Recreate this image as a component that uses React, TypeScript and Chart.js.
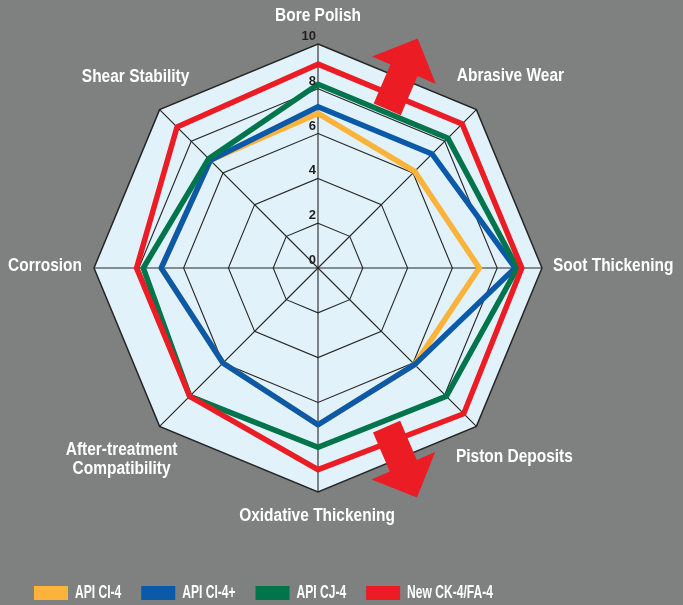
import React, { useEffect, useRef } from "react";
import { Chart, registerables } from "chart.js";

Chart.register(...registerables);

// ---- data ----
const categories: (string | string[])[] = [
  "Bore Polish",
  "Abrasive Wear",
  "Soot Thickening",
  "Piston Deposits",
  "Oxidative Thickening",
  ["After-treatment", "Compatibility"],
  "Corrosion",
  "Shear Stability",
];
const seriesNames = ["API CI-4", "API CI-4+", "API CJ-4", "New CK-4/FA-4"];
const apiCI4 = [6.9, 6.1, 7.2, 6.1, 7.0, 6.0, 7.0, 6.8];
const apiCI4Plus = [7.2, 7.2, 8.8, 6.1, 7.0, 6.0, 7.0, 6.8];
const apiCJ4 = [8.2, 8.2, 8.9, 8.1, 8.0, 8.1, 7.8, 6.9];
const newCK4 = [9.1, 9.1, 9.1, 9.2, 9.0, 8.1, 8.1, 8.9];
const tickValues = [0, 2, 4, 6, 8, 10];

// ---- styles ----
const seriesColors = ["#fbb33a", "#0b5aaa", "#00744a", "#ec1c24"];
const bgGray = "#7f8180";
const LABEL_FONT = "bold 18px 'Liberation Sans', Arial, sans-serif";
const LABEL_SX = 0.86;
const LEGEND_SX = 0.67;

// label placement relative to each outer vertex: [dx, dy, align]
const labelPlacement: [number, number, CanvasTextAlign][] = [
  [0, -28, "center"],
  [34, -34, "center"],
  [11, -2, "left"],
  [38, 31, "center"],
  [-1, 24, "center"],
  [-38, 24, "center"],
  [-12, -2, "right"],
  [-24, -33, "center"],
];

function drawCondensed(
  ctx: CanvasRenderingContext2D,
  text: string,
  x: number,
  y: number,
  sx: number,
  align: CanvasTextAlign
) {
  ctx.save();
  ctx.translate(x, y);
  ctx.scale(sx, 1);
  ctx.textAlign = align;
  ctx.fillText(text, 0, 0);
  ctx.restore();
}

const arrowsPlugin = {
  id: "arrows",
  beforeDatasetsDraw(chart: any) {
    const s = chart.scales.r;
    const R = s.drawingArea;
    const ctx = chart.ctx as CanvasRenderingContext2D;
    const drawArrow = (tipX: number, tipY: number, dx: number, dy: number) => {
      const nx = -dy, ny = dx;
      const headLen = 0.155 * R;
      const headHalf = 0.155 * R;
      const shaftHalf = 0.066 * R;
      const shaftLen = 0.19 * R;
      const bx = tipX - dx * headLen, by = tipY - dy * headLen;
      const ex = bx - dx * shaftLen, ey = by - dy * shaftLen;
      ctx.save();
      ctx.fillStyle = "#ec1c24";
      ctx.beginPath();
      ctx.moveTo(tipX, tipY);
      ctx.lineTo(bx + nx * headHalf, by + ny * headHalf);
      ctx.lineTo(bx + nx * shaftHalf, by + ny * shaftHalf);
      ctx.lineTo(ex + nx * shaftHalf, ey + ny * shaftHalf);
      ctx.lineTo(ex - nx * shaftHalf, ey - ny * shaftHalf);
      ctx.lineTo(bx - nx * shaftHalf, by - ny * shaftHalf);
      ctx.lineTo(bx - nx * headHalf, by - ny * headHalf);
      ctx.closePath();
      ctx.fill();
      ctx.restore();
    };
    const ux = 0.394, uy = 0.918;
    drawArrow(s.xCenter + 0.445 * R, s.yCenter - 1.025 * R, ux, -uy);
    drawArrow(s.xCenter + 0.442 * R, s.yCenter + 1.025 * R, ux, uy);
  },
};

const textPlugin = {
  id: "texts",
  afterDraw(chart: any) {
    const s = chart.scales.r;
    const ctx = chart.ctx as CanvasRenderingContext2D;
    const R = s.drawingArea;

    // tick labels
    ctx.save();
    ctx.fillStyle = "#231f20";
    ctx.font = "bold 13px 'Liberation Sans', Arial, sans-serif";
    ctx.textBaseline = "bottom";
    tickValues.forEach((v) => {
      const d = s.getDistanceFromCenterForValue(v);
      ctx.textAlign = "right";
      ctx.fillText(String(v), s.xCenter - 2, s.yCenter - d - 1);
    });
    ctx.restore();

    // axis labels
    ctx.save();
    ctx.fillStyle = "#ffffff";
    ctx.font = LABEL_FONT;
    ctx.textBaseline = "middle";
    categories.forEach((lab, i) => {
      const p = s.getPointPosition(i, R);
      const [dx, dy, align] = labelPlacement[i];
      const lines = Array.isArray(lab) ? lab : [lab];
      lines.forEach((ln, k) => {
        drawCondensed(ctx, ln, p.x + dx, p.y + dy + k * 19, LABEL_SX, align);
      });
    });
    ctx.restore();

    // legend
    ctx.save();
    ctx.font = LABEL_FONT;
    ctx.textBaseline = "middle";
    let x = 34;
    const y = 586;
    chart.data.datasets.forEach((ds: any) => {
      ctx.fillStyle = ds.borderColor;
      ctx.fillRect(x, y, 34, 14);
      ctx.fillStyle = "#ffffff";
      const tx = x + 41;
      drawCondensed(ctx, ds.label, tx, y + 7.5, LEGEND_SX, "left");
      const w = ctx.measureText(ds.label).width * LEGEND_SX;
      x = tx + w + 20;
    });
    ctx.restore();
  },
};

export default function App() {
  const ref = useRef<HTMLCanvasElement | null>(null);
  useEffect(() => {
    if (!ref.current) return;
    const series = [apiCI4, apiCI4Plus, apiCJ4, newCK4];
    const chart = new Chart(ref.current, {
      type: "radar",
      data: {
        labels: categories as any,
        datasets: series.map((vals, i) => ({
          label: seriesNames[i],
          data: vals,
          borderColor: seriesColors[i],
          backgroundColor: seriesColors[i],
          borderWidth: 5.5,
          borderJoinStyle: "miter" as const,
          fill: false,
          pointRadius: 0,
          pointHoverRadius: 0,
          tension: 0,
          order: 3 - i,
        })),
      },
      options: {
        responsive: false,
        animation: false,
        devicePixelRatio: 1,
        layout: { padding: { left: 94, right: 141, top: 44, bottom: 113 } },
        plugins: {
          legend: { display: false },
          tooltip: { enabled: false },
        },
        scales: {
          r: {
            min: 0,
            max: 10,
            backgroundColor: "#e1f2fb",
            ticks: { display: false, stepSize: 2 },
            pointLabels: { display: false },
            grid: {
              color: "#262626",
              lineWidth: (c: any) => (c.index === 5 ? 1.5 : 1.1),
            },
            angleLines: { color: "#262626", lineWidth: 1.1 },
          },
        },
      },
      plugins: [arrowsPlugin, textPlugin],
    });
    return () => chart.destroy();
  }, []);

  return (
    <div
      style={{
        position: "fixed",
        left: 0,
        top: 0,
        width: 683,
        height: 605,
        background: bgGray,
      }}
    >
      <canvas ref={ref} width={683} height={605} style={{ display: "block" }} />
    </div>
  );
}
